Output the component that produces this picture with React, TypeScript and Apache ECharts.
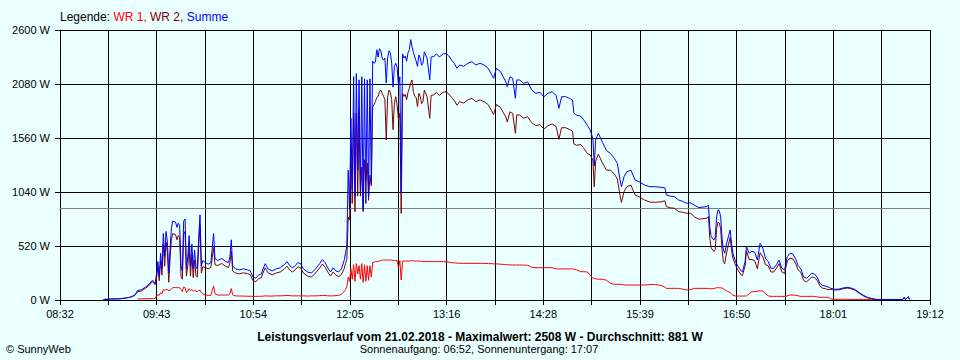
import React, { useEffect, useRef } from "react";
import * as echarts from "echarts";

// ---- data (time of day, power in W) ----
const TIMES = [
  "09:04","09:10","09:16","09:20","09:24","09:27","09:29","09:32","09:35","09:38",
  "09:40","09:42","09:43","09:44","09:45","09:46","09:47","09:48","09:49","09:50",
  "09:51","09:52","09:53","09:54","09:55","09:57","09:58","09:59","10:00","10:01",
  "10:02","10:03","10:04","10:05","10:06","10:07","10:08","10:09","10:10","10:11",
  "10:12","10:13","10:14","10:15","10:16","10:17","10:19","10:21","10:23","10:24",
  "10:25","10:26","10:28","10:31","10:34","10:36","10:37","10:38","10:39","10:41",
  "10:44","10:47","10:50","10:52","10:54","10:56","10:58","11:00","11:02","11:03",
  "11:05","11:08","11:11","11:14","11:17","11:19","11:21","11:23","11:25","11:27",
  "11:29","11:31","11:34","11:37","11:40","11:43","11:45","11:47","11:49","11:51",
  "11:53","11:55","11:57","11:59","12:01","12:02","12:03",
  "12:04","12:05","12:06","12:07","12:08","12:09","12:10","12:11","12:12","12:13",
  "12:14","12:15","12:16","12:17","12:18","12:19","12:20","12:21","12:22","12:23",
  "12:24","12:25","12:26","12:27","12:28","12:29","12:30","12:31","12:32","12:33",
  "12:34","12:35","12:36","12:37","12:38","12:39","12:40","12:41","12:42","12:43",
  "12:44","12:45","12:46","12:47","12:48","12:49","12:50","12:51","12:52","12:53",
  "12:54","12:55","12:56","12:57","12:58","12:59","13:00","13:02","13:04","13:05",
  "13:07","13:09","13:11","13:14","13:16","13:18","13:20","13:22","13:24","13:26",
  "13:29","13:32","13:35","13:38","13:41","13:44","13:47","13:49","13:51","13:53",
  "13:56","13:58","14:00","14:01","14:03","14:05","14:07","14:08","14:10","14:13",
  "14:16","14:19","14:22","14:25","14:28","14:31","14:34","14:37","14:39","14:41",
  "14:44","14:47","14:49","14:50","14:52","14:55","14:57","15:00","15:02","15:04",
  "15:05","15:06","15:08","15:11","15:14","15:17","15:20","15:22","15:24","15:25",
  "15:27","15:29","15:32","15:35","15:38","15:42","15:46","15:50","15:54","15:57",
  "15:58","16:01","16:04","16:07","16:10","16:13","16:16","16:19","16:22","16:25",
  "16:28","16:29","16:30","16:31","16:33","16:34","16:35","16:36","16:37","16:38",
  "16:39","16:40","16:41","16:42","16:43","16:45","16:46","16:47","16:49","16:51",
  "16:53","16:54","16:56","16:57","16:59","17:01","17:03","17:05","17:07","17:09",
  "17:11","17:13","17:15","17:17","17:19","17:21","17:23","17:25","17:27","17:29",
  "17:31","17:33","17:35","17:37","17:39","17:41","17:43","17:45","17:47","17:49",
  "17:51","17:53","17:55","17:57","17:59","18:02","18:05","18:08","18:11","18:14",
  "18:17","18:20","18:23","18:26","18:29","18:32","18:34","18:37","18:42","18:47",
  "18:52","18:53","18:54","18:56","18:57"
];

const WR1 = [
  null,null,null,null,null,null,10,12,12,13,
  13,13,40,50,45,70,60,100,95,100,
  100,90,95,110,118,120,118,120,118,100,
  80,125,120,70,90,110,90,100,85,95,
  85,80,90,95,70,60,48,45,45,90,
  135,60,48,48,48,48,60,110,50,40,
  38,38,36,36,35,35,35,36,38,40,
  38,38,40,40,42,44,42,40,40,40,
  40,40,38,40,40,42,44,44,40,40,
  40,42,45,55,80,100,130,
  220,180,300,200,340,180,350,250,330,200,
  350,170,340,180,330,190,330,220,360,365,
  370,370,372,375,380,385,385,385,385,385,
  385,385,385,380,380,380,380,308,380,193,
  375,375,375,375,375,375,380,378,376,375,
  375,375,375,374,372,370,370,370,370,370,
  370,370,370,369,368,365,360,358,355,353,
  353,353,353,353,353,353,350,350,348,348,
  345,343,340,340,338,337,337,337,337,336,
  335,315,311,311,311,311,311,300,299,299,
  299,299,299,297,290,273,273,270,240,209,
  209,205,200,200,190,160,151,151,151,151,
  144,144,144,144,144,144,148,150,140,125,
  112,112,112,112,105,96,100,112,112,112,
  112,110,110,108,110,115,118,118,118,118,
  115,110,100,90,85,70,60,45,38,38,
  38,38,38,40,60,80,80,85,90,85,
  60,40,35,35,35,35,35,35,40,48,
  48,45,40,35,35,35,35,35,35,30,
  26,26,26,26,10,7,7,7,7,6,
  6,6,5,4,3,2,null,null,null,null,
  null,null,null,null,null
];

const WR2 = [
  5,10,12,18,28,45,80,88,113,147,
  177,147,210,320,185,380,240,540,325,560,
  460,170,405,590,640,630,580,620,600,230,
  200,635,660,230,330,510,230,440,215,385,
  235,220,510,725,260,320,312,300,315,410,
  505,340,332,352,322,312,360,470,280,260,
  252,262,254,244,185,175,205,214,282,310,
  262,242,260,270,298,326,288,270,290,320,
  310,260,232,220,260,308,346,316,270,230,
  270,238,225,245,300,350,390,
  800,770,1450,930,1800,850,1800,1000,1780,1000,
  1280,850,1350,1150,1320,960,1200,1100,1860,1880,
  1910,1950,1960,2006,2022,1990,1960,1930,1540,1950,
  2022,2000,1930,1640,1900,1958,1870,1733,1800,835,
  1990,1960,1980,1930,2000,2040,2090,2119,2000,1960,
  1950,1862,1990,1960,1890,1910,2020,1960,1750,1970,
  1975,2000,1970,2001,2006,1985,1951,1922,1876,1910,
  1897,1927,1942,1910,1927,1910,1881,1833,1787,1883,
  1855,1807,1760,1715,1812,1798,1605,1782,1782,1751,
  1765,1707,1679,1689,1647,1679,1695,1670,1547,1659,
  1659,1641,1627,1503,1490,1497,1467,1410,1397,1348,
  1090,1335,1405,1320,1250,1250,1209,1165,1005,940,
  1046,1092,1106,1012,995,963,943,941,945,955,
  899,888,883,851,845,835,835,798,778,783,
  788,805,596,502,468,485,682,749,742,682,
  485,370,350,430,493,604,480,405,331,282,
  242,235,332,474,390,390,380,300,456,415,
  340,329,270,270,305,350,270,254,377,402,
  397,355,290,265,190,174,195,222,215,190,
  135,114,109,99,102,96,98,108,115,109,
  94,64,40,21,12,5,5,5,5,5,
  5,26,5,32,5
];

const SUMME = [
  5,10,12,18,28,45,90,100,125,160,
  190,160,250,370,230,450,300,640,420,660,
  560,260,500,700,760,750,700,740,720,330,
  280,760,780,300,420,620,320,540,300,480,
  320,300,600,820,330,380,360,345,360,500,
  640,400,380,400,370,360,420,580,330,300,
  290,300,290,280,220,210,240,250,320,350,
  300,280,300,310,340,370,330,310,330,360,
  350,300,270,260,300,350,390,360,310,270,
  310,280,270,300,380,450,520,
  1250,870,1750,1060,2150,990,2180,1250,2120,1030,
  2150,870,2130,930,2120,995,2130,1120,2300,2280,
  2290,2410,2340,2420,2400,2330,2310,2330,2090,2330,
  2400,2380,2280,2050,2250,2280,2240,2060,2150,1030,
  2370,2330,2350,2300,2380,2410,2508,2440,2380,2340,
  2300,2250,2360,2330,2260,2280,2390,2330,2120,2340,
  2345,2370,2340,2370,2376,2350,2311,2280,2231,2263,
  2250,2280,2295,2263,2280,2263,2231,2183,2135,2231,
  2200,2150,2100,2055,2150,2135,1942,2119,2119,2087,
  2100,2022,1990,2000,1958,1990,2006,1970,1846,1958,
  1958,1940,1926,1800,1780,1770,1740,1680,1637,1557,
  1290,1540,1605,1520,1440,1410,1360,1316,1156,1091,
  1190,1236,1250,1156,1139,1107,1091,1091,1085,1080,
  1011,1000,995,963,950,931,935,910,890,895,
  900,915,706,610,578,600,800,867,860,800,
  600,480,450,520,578,674,540,450,369,320,
  280,273,370,514,450,470,460,385,546,500,
  400,369,305,305,340,385,305,289,417,450,
  445,400,330,300,225,209,230,257,250,220,
  161,140,135,125,112,103,105,115,122,115,
  100,70,45,25,15,7,5,5,5,5,
  5,26,5,32,5
];

const X_TICK_LABELS = ["08:32","09:43","10:54","12:05","13:16","14:28","15:39","16:50","18:01","19:12"];
const X_START_MIN = 8 * 60 + 32; // 08:32
const Y_MAX = 2600;
const Y_STEP = 520;
const AVERAGE_W = 881;
const SERIES_NAMES = ["WR 1", "WR 2", "Summe"];
const SERIES_COLORS = ["#ff0000", "#800000", "#0000ff"];
const TITLE = "Leistungsverlauf vom 21.02.2018 - Maximalwert: 2508 W - Durchschnitt: 881 W";
const SUBTITLE = "Sonnenaufgang: 06:52, Sonnenuntergang: 17:07";
const COPYRIGHT = "\u00a9 SunnyWeb";

// axis unit: ninths of a minute after 08:32 (so one grid step of 35.56 min = 320 units)
const UNIT_PER_MIN = 9;
const X_STEP = 320;
const X_MAX = 640 * UNIT_PER_MIN;

const toX = (hhmm: string) => {
  const [h, m] = hhmm.split(":").map(Number);
  return (h * 60 + m - X_START_MIN) * UNIT_PER_MIN;
};

const FONT = "'Liberation Sans', Arial, sans-serif";
const BG = "#eaffff";

export default function App() {
  const ref = useRef<HTMLDivElement>(null);

  useEffect(() => {
    if (!ref.current) return;
    const chart = echarts.init(ref.current, null, { renderer: "svg" });
    const mk = (vals: (number | null)[]) =>
      TIMES.map((t, i) => [toX(t), vals[i]] as [number, number | null]).filter((p) => p[1] !== null);

    const lineSeries = (idx: number, vals: (number | null)[], extra: any = {}) => ({
      name: SERIES_NAMES[idx],
      type: "line",
      data: mk(vals),
      symbol: "none",
      showSymbol: false,
      lineStyle: { color: SERIES_COLORS[idx], width: 1 },
      itemStyle: { color: SERIES_COLORS[idx] },
      emphasis: { disabled: true },
      silent: true,
      z: 3 + idx,
      ...extra,
    });

    chart.setOption({
      animation: false,
      backgroundColor: BG,
      textStyle: { fontFamily: FONT },
      grid: { left: 60, right: 30, top: 30, bottom: 60, outerBoundsMode: "none", containLabel: false },
      xAxis: {
        type: "value",
        min: 0,
        max: X_MAX,
        interval: X_STEP,
        axisLine: { show: true, lineStyle: { color: "#000", width: 1 } },
        axisTick: { show: true, length: 5, lineStyle: { color: "#000" } },
        axisLabel: {
          color: "#000",
          fontSize: 11,
          fontFamily: FONT,
          margin: 8,
          showMinLabel: true,
          showMaxLabel: true,
          hideOverlap: false,
          formatter: (v: number) => {
            const i = Math.round(v / X_STEP);
            return i % 2 === 0 ? X_TICK_LABELS[i / 2] : "";
          },
        },
        splitLine: { show: true, showMinLine: true, showMaxLine: true, lineStyle: { color: "#000", width: 1 } },
      },
      yAxis: {
        type: "value",
        min: 0,
        max: Y_MAX,
        interval: Y_STEP,
        axisLine: { show: true, lineStyle: { color: "#000", width: 1 } },
        axisTick: { show: true, length: 5, lineStyle: { color: "#000" } },
        axisLabel: {
          color: "#000",
          fontSize: 11,
          fontFamily: FONT,
          margin: 10,
          formatter: (v: number) => String(Math.round(v)) + " W",
        },
        splitLine: { show: true, showMinLine: true, showMaxLine: true, lineStyle: { color: "#000", width: 1 } },
      },
      series: [
        lineSeries(0, WR1, {
          markLine: {
            silent: true,
            symbol: "none",
            label: { show: false },
            lineStyle: { color: "#808080", type: "solid", width: 1 },
            data: [{ yAxis: AVERAGE_W }],
            z: 2,
          },
        }),
        lineSeries(1, WR2),
        lineSeries(2, SUMME),
      ],
      graphic: [
        {
          type: "text",
          x: 60,
          y: 17,
          silent: true,
          style: {
            text: "{k|Legende: }{a|" + SERIES_NAMES[0] + ", }{b|" + SERIES_NAMES[1] + ", }{c|" + SERIES_NAMES[2] + "}",
            verticalAlign: "middle",
            font: "12px " + FONT,
            rich: {
              k: { fill: "#000", fontSize: 12, fontFamily: FONT },
              a: { fill: SERIES_COLORS[0], fontSize: 12, fontFamily: FONT },
              b: { fill: SERIES_COLORS[1], fontSize: 12, fontFamily: FONT },
              c: { fill: SERIES_COLORS[2], fontSize: 12, fontFamily: FONT },
            },
          },
        },
        {
          type: "text",
          x: 480,
          y: 337,
          silent: true,
          style: { text: TITLE, align: "center", verticalAlign: "middle", font: "bold 12px " + FONT, fill: "#000" },
        },
        {
          type: "text",
          x: 479,
          y: 349,
          silent: true,
          style: { text: SUBTITLE, align: "center", verticalAlign: "middle", font: "11px " + FONT, fill: "#000" },
        },
        {
          type: "text",
          x: 6,
          y: 349,
          silent: true,
          style: { text: COPYRIGHT, align: "left", verticalAlign: "middle", font: "11px " + FONT, fill: "#000" },
        },
      ],
    });
    return () => chart.dispose();
  }, []);

  return (
    <div
      ref={ref}
      style={{ position: "fixed", left: 0, top: 0, width: 960, height: 360, background: BG }}
    />
  );
}
